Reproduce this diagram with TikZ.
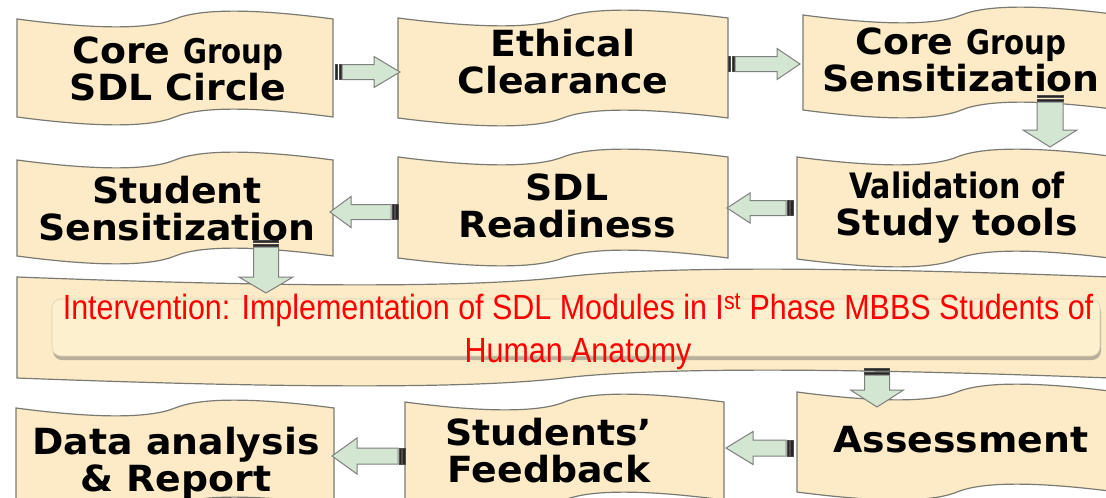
\documentclass[tikz,border=0pt]{standalone}
\usepackage{fontspec}
\newfontfamily\boxfont{DejaVu Sans}[FakeStretch=1.05]
\newfontfamily\grpfont{DejaVu Sans}[FakeStretch=0.86]
\newfontfamily\redfont{Liberation Sans}[FakeStretch=0.87]
\usetikzlibrary{calc,shadows}
\definecolor{tapefill}{HTML}{FCEBC6}
\definecolor{tapeline}{HTML}{7A7A72}
\definecolor{arrfill}{HTML}{D3E6D1}
\definecolor{arrline}{HTML}{7F7F7F}
\definecolor{intvfill}{HTML}{FDF0CF}
\definecolor{intvline}{HTML}{D9CFB5}
\tikzset{
 tapenode/.style={inner sep=0pt, outer sep=0pt, draw=none},
 tapeshape/.style={fill=tapefill, draw=tapeline, line width=1.2pt},
 boxtext/.style={font=\boxfont\bfseries\fontsize{36}{37}\selectfont, align=center, anchor=base, inner sep=0pt},
 arrbody/.style={fill=arrfill, draw=arrline, line width=1pt, line join=miter},
 arrstripe/.style={fill=black!85, draw=black!70, line width=0.4pt},
 redtext/.style={font=\redfont\fontsize{35}{43}\selectfont, text=red, align=center, anchor=base, inner sep=0pt},
 intvbox/.style={fill=intvfill, draw=intvline, line width=0.6pt, rounded corners=9pt, inner sep=0pt,
   drop shadow={opacity=0.45, shadow xshift=1pt, shadow yshift=-4pt, fill=black!60}},
}
\newcommand\grpword[1]{{\grpfont\bfseries\fontsize{34}{37}\selectfont #1}}
\newcommand\tapebox[5]{%
 \node[tapenode, minimum width={#3-#2}, minimum height={#5-#4}] (#1) at ({(#2+#3)/2},{(#4+#5)/2}) {};
 \draw[tapeshape] let \p1=(#1.north west), \p2=(#1.south east), \n1={\x2-\x1} in
 (\x1,\y1) .. controls ({\x1+0.25*\n1},{\y1-10.5pt}) and ({\x1+0.42*\n1},{\y1-10.5pt}) .. ({\x1+0.5*\n1},\y1)
 .. controls ({\x1+0.58*\n1},{\y1+10.5pt}) and ({\x1+0.75*\n1},{\y1+10.5pt}) .. (\x2,\y1)
 -- (\x2,\y2)
 .. controls ({\x1+0.75*\n1},{\y2+10.5pt}) and ({\x1+0.58*\n1},{\y2+10.5pt}) .. ({\x1+0.5*\n1},\y2)
 .. controls ({\x1+0.42*\n1},{\y2-10.5pt}) and ({\x1+0.25*\n1},{\y2-10.5pt}) .. (\x1,\y2) -- cycle;
}
\newcommand\AP[2]{({\x1+(#1)*(\n2)-(#2)*(\n3)},{\y1+(#1)*(\n3)+(#2)*(\n2)})}
\newcommand\blockarrow[5]{%
 \draw[arrbody] let \p1=#1, \p2=#2, \n1={veclen(\x2-\x1,\y2-\y1)}, \n2={(\x2-\x1)/\n1}, \n3={(\y2-\y1)/\n1} in
  \AP{7}{#3} -- \AP{\n1-#5}{#3} -- \AP{\n1-#5}{#4} -- \AP{\n1}{0} -- \AP{\n1-#5}{-#4} -- \AP{\n1-#5}{-#3} -- \AP{7}{-#3} -- cycle;
 \draw[arrstripe] let \p1=#1, \p2=#2, \n1={veclen(\x2-\x1,\y2-\y1)}, \n2={(\x2-\x1)/\n1}, \n3={(\y2-\y1)/\n1} in
  \AP{0}{#3} -- \AP{2.5}{#3} -- \AP{2.5}{-#3} -- \AP{0}{-#3} -- cycle
  \AP{4}{#3} -- \AP{6}{#3} -- \AP{6}{-#3} -- \AP{4}{-#3} -- cycle;
}
\begin{document}
\begin{tikzpicture}[x=1pt,y=-1pt]
\useasboundingbox (0,0) rectangle (1106,498);
\fill[white] (0,0) rectangle (1106,498);
% boxes
\tapebox{wb}{17}{1110}{277}{378}
\tapebox{b1}{17}{333}{19}{117}
\tapebox{b2}{398}{728}{18}{118}
\tapebox{b3}{803}{1120}{15}{110}
\tapebox{b4}{17}{333}{160}{256}
\tapebox{b5}{398}{728}{157}{258}
\tapebox{b6}{797}{1117}{157}{259}
\tapebox{b7}{16}{334}{408}{505}
\tapebox{b8}{405}{724}{402}{500}
\tapebox{b9}{797}{1117}{392}{492}
\node[intvbox, minimum width=1048pt, minimum height=57pt] (intv) at (576,327.5) {};
% arrows
\blockarrow{([shift={(2,4)}]b1.east)}{([shift={(2,4)}]b2.west)}{7.5}{15.5}{26}
\blockarrow{([shift={(0,-4)}]b2.east)}{([shift={(-3,1.5)}]b3.west)}{7.5}{15.5}{23}
\blockarrow{([shift={(88.5,-15)}]b3.south)}{([shift={(93,-10)}]b6.north)}{13}{27}{17}
\blockarrow{([shift={(-4,0)}]b6.west)}{([shift={(-1,0.5)}]b5.east)}{7.5}{15}{23}
\blockarrow{([shift={(0,4.5)}]b5.west)}{([shift={(-3,4)}]b4.east)}{7.5}{15.5}{21}
\blockarrow{([shift={(91,-16)}]b4.south)}{([shift={(-297.5,16)}]wb.north)}{12.5}{27}{16}
\blockarrow{([shift={(313.5,-10)}]wb.south)}{([shift={(-80,15)}]b9.north)}{12.5}{26.5}{17}
\blockarrow{([shift={(-4,6)}]b9.west)}{([shift={(2,-3)}]b8.east)}{8}{16.5}{27}
\blockarrow{([shift={(0,5)}]b8.west)}{([shift={(-2,-0.5)}]b7.east)}{8}{18}{25}
% texts (anchor = baseline of the last line)
\node[boxtext] (t1) at ([shift={(3,32)}]b1.center) {Core \grpword{Group}\\SDL Circle};
\node[boxtext] (t2) at ([shift={(0,25)}]b2.center) {Ethical\\Clearance};
\node[boxtext] (t3) at ([shift={(-0.5,28.5)}]b3.center) {Core \grpword{Group}\\Sensitization};
\node[boxtext] (t4) at ([shift={(2,32)}]b4.center) {Student\\Sensitization};
\node[boxtext] (t5) at ([shift={(4,29.5)}]b5.center) {SDL\\Readiness};
\node[boxtext] (t6) at ([shift={(0,27)}]b6.center) {{\grpfont\bfseries\fontsize{35}{37}\selectfont Validation of}\\Study tools};
\node[boxtext] (t7) at ([shift={(1,34.5)}]b7.center) {Data analysis\\\& Report};
\node[boxtext] (t8) at ([shift={(-15.5,31)}]b8.center) {Students’\\Feedback};
\node[boxtext] (t9) at ([shift={(4,10)}]b9.center) {Assessment};
\node[redtext] (itext) at ([shift={(2,34.5)}]intv.center) {Intervention: Implementation of SDL Modules in I\textsuperscript{st} Phase MBBS Students of\\Human Anatomy};
\end{tikzpicture}
\end{document}
